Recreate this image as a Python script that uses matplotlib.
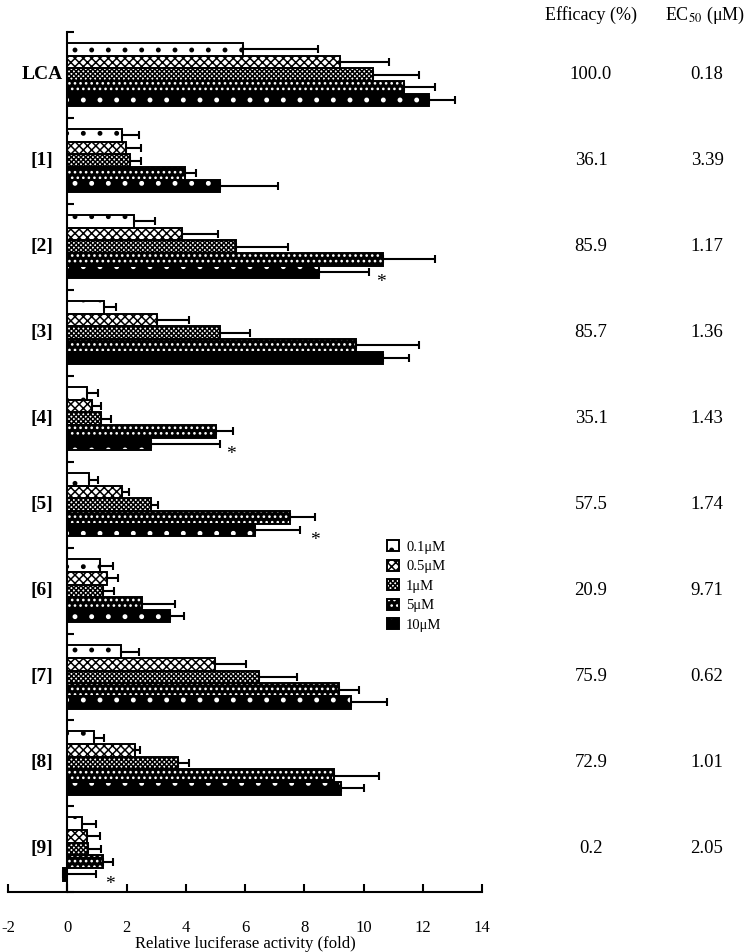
import matplotlib
matplotlib.use('Agg')
import matplotlib.pyplot as plt
import matplotlib.transforms as mtransforms
from matplotlib.patches import Patch
import numpy as np

plt.rcParams['font.family'] = ['Liberation Serif', 'DejaVu Serif']
plt.rcParams['mathtext.fontset'] = 'stix'
plt.rcParams['axes.unicode_minus'] = False
plt.rcParams['hatch.linewidth'] = 1.1

# data (fold activation, + SEM)
compounds = ['LCA', '[1]', '[2]', '[3]', '[4]', '[5]', '[6]', '[7]', '[8]', '[9]']
concs = ['0.1\u03bcM', '0.5\u03bcM', '1\u03bcM', '5\u03bcM', '10\u03bcM']

mean_01 = [5.93, 1.84, 2.24, 1.24, 0.68, 0.73, 1.11, 1.81, 0.90, 0.51]
mean_05 = [9.21, 1.99, 3.87, 3.03, 0.82, 1.84, 1.33, 4.98, 2.29, 0.66]
mean_1 = [10.32, 2.12, 5.68, 5.14, 1.13, 2.82, 1.20, 6.47, 3.74, 0.71]
mean_5 = [11.36, 3.96, 10.66, 9.73, 5.03, 7.53, 2.54, 9.16, 9.02, 1.20]
mean_10 = [12.20, 5.16, 8.49, 10.66, 2.84, 6.34, 3.48, 9.58, 9.24, -0.15]

err_01 = [2.52, 0.57, 0.71, 0.40, 0.37, 0.32, 0.45, 0.60, 0.35, 0.46]
err_05 = [1.65, 0.49, 1.23, 1.09, 0.32, 0.25, 0.38, 1.07, 0.17, 0.45]
err_1 = [1.55, 0.36, 1.77, 1.04, 0.35, 0.26, 0.39, 1.27, 0.38, 0.43]
err_5 = [1.05, 0.40, 1.75, 2.14, 0.56, 0.84, 1.09, 0.70, 1.52, 0.36]
err_10 = [0.90, 1.97, 1.71, 0.88, 2.30, 1.51, 0.47, 1.22, 0.79, 1.13]

efficacy = ['100.0', '36.1', '85.9', '85.7', '35.1', '57.5', '20.9', '75.9', '72.9', '0.2']
ec50 = ['0.18', '3.39', '1.17', '1.36', '1.43', '1.74', '9.71', '0.62', '1.01', '2.05']

# significance marks: compound index -> x position
star_idx = [2, 4, 5, 9]
star_x = [10.6, 5.51, 8.37, 1.43]

means = [mean_01, mean_05, mean_1, mean_5, mean_10]
errs = [err_01, err_05, err_1, err_5, err_10]
# face colour, hatch colour, hatch
styles = [('white', 'black', '.'),
          ('white', 'black', 'xxxx'),
          ('white', 'black', 'xxxxxxx'),
          ('black', 'white', '...'),
          ('black', 'white', '.')]

fig = plt.figure(figsize=(7.45, 9.52), dpi=100)
ax = fig.add_axes([8 / 745, 60 / 952, 474 / 745, (892 - 31.6) / 952])

n = len(compounds)
h = 0.147
centers = np.arange(n) + 0.5
handles = []
for k in range(5):
    fc, hc, hatch = styles[k]
    y = centers + (k - 2) * h
    ax.barh(y, means[k], height=h, color=fc, edgecolor=hc, hatch=hatch, linewidth=0, zorder=2)
    ax.barh(y, means[k], height=h, fill=False, edgecolor='black', linewidth=1.4, zorder=3)
    ax.errorbar(means[k], y, xerr=[np.zeros(n), errs[k]], fmt='none', ecolor='black',
                elinewidth=1.5, capsize=3.2, capthick=1.5, zorder=4)
    handles.append((Patch(facecolor=fc, edgecolor=hc, hatch=hatch, linewidth=0),
                    Patch(fill=False, edgecolor='black', linewidth=1.4)))

for i, x in zip(star_idx, star_x):
    ax.text(x, centers[i] + 2 * h + 0.12, '*', ha='center', va='center', fontsize=14)

ax.set_xlim(-2, 14)
ax.set_ylim(n, 0)
ax.set_xticks(np.arange(-2, 15, 2))
ax.set_yticks(np.arange(0, n + 1))
ax.set_yticklabels([])
ax.spines['left'].set_position(('data', 0))
ax.spines['top'].set_visible(False)
ax.spines['right'].set_visible(False)
ax.spines['left'].set_linewidth(1.5)
ax.spines['bottom'].set_linewidth(1.5)
ax.tick_params(axis='x', direction='in', length=6, width=1.5, labelsize=12, pad=20)
ax.tick_params(axis='y', direction='in', length=5, width=1.5)
ax.set_xlabel('Relative luciferase activity (fold)', fontsize=12, labelpad=0)

for i, name in enumerate(compounds):
    ax.text(-0.85, centers[i], name, ha='center', va='center', fontsize=14, fontweight='bold')

tr = mtransforms.blended_transform_factory(fig.transFigure, ax.transData)
for i in range(n):
    ax.text(591 / 745, centers[i], efficacy[i], transform=tr, ha='center', va='center', fontsize=13.5)
    ax.text(707 / 745, centers[i], ec50[i], transform=tr, ha='center', va='center', fontsize=13.5)
fig.text(591 / 745, 1 - 15 / 952, 'Efficacy (%)', ha='center', va='center', fontsize=13)
fig.text(705 / 745, 1 - 15 / 952, 'EC$_{50}$ (\u03bcM)', ha='center', va='center', fontsize=13)

ax.legend(handles, concs, loc='upper left', bbox_to_anchor=(374 / 745, 1 - 527 / 952),
          bbox_transform=fig.transFigure, frameon=False, fontsize=10.5,
          handlelength=0.8, handleheight=0.8, handletextpad=0.5, labelspacing=0.4)

fig.savefig('out.png', dpi=100)
